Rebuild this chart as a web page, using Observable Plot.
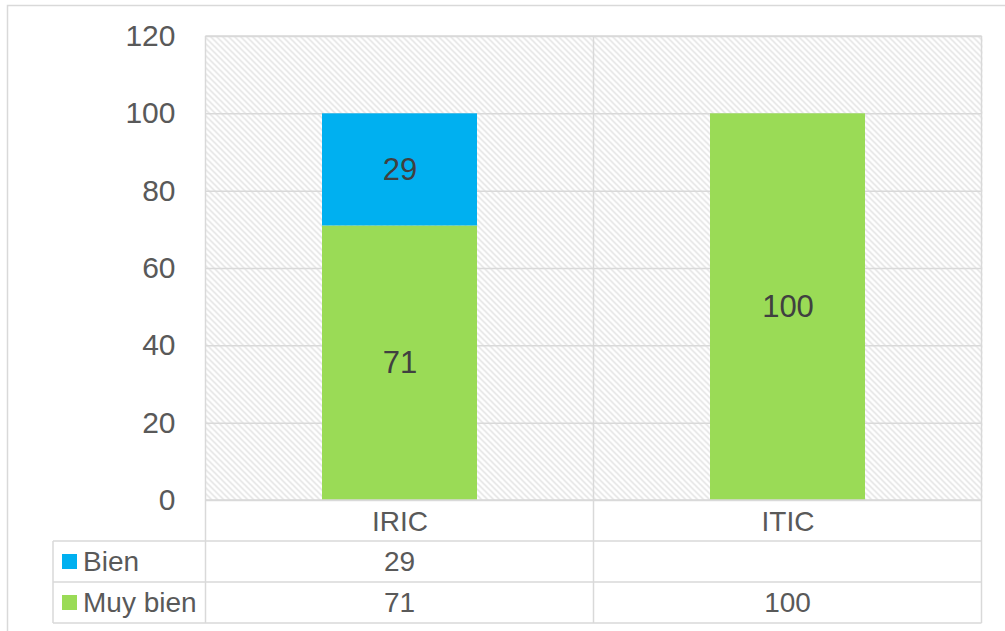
<!DOCTYPE html>
<html>
<head>
<meta charset="utf-8">
<script src="https://cdn.jsdelivr.net/npm/d3@7"></script>
<script src="https://cdn.jsdelivr.net/npm/@observablehq/plot@0.6"></script>
<style>
  html, body { margin: 0; padding: 0; background: #fff; }
  svg { display: block; }
</style>
</head>
<body>
<div id="chart"></div>
<script>
const categories = ["IRIC", "ITIC"];
const seriesNames = ["Muy bien", "Bien"];   // stacking order: bottom to top
const muyBien = [71, 100];
const bien = [29, null];
const yTicks = [0, 20, 40, 60, 80, 100, 120];
const seriesColors = { "Bien": "#00B0F0", "Muy bien": "#9ADB56" };
const tableRows = ["Bien", "Muy bien"];

const valuesBySeries = { "Muy bien": muyBien, "Bien": bien };
const data = [];
for (const s of seriesNames) {
  categories.forEach((c, i) => {
    const v = valuesBySeries[s][i];
    if (v != null) data.push({ cat: c, series: s, value: v });
  });
}

const W = 1005, H = 631;
const font = "'Liberation Sans', Arial, sans-serif";
const gridColor = "#d9d9d9";

const plot = Plot.plot({
  width: W,
  height: H,
  marginLeft: 205,
  marginRight: 23,
  marginTop: 36,
  marginBottom: 131,
  style: { fontFamily: font, background: "white", overflow: "visible" },
  x: { domain: categories, paddingInner: 0.6, paddingOuter: 0.3, label: null },
  y: { domain: [0, 120], ticks: yTicks, label: null },
  color: { domain: seriesNames, range: seriesNames.map(s => seriesColors[s]) },
  marks: [
    Plot.frame({ fill: "url(#hatch)", stroke: "none" }),
    Plot.gridY(yTicks, { stroke: gridColor, strokeOpacity: 1, strokeWidth: 1.5 }),
    Plot.barY(data, { x: "cat", y: "value", fill: "series", z: "series" }),
    Plot.text(data, Plot.stackY({ x: "cat", y: "value", z: "series", text: d => String(d.value), fontSize: 31, fill: "#404040" })),
    Plot.axisY(yTicks, { tickSize: 0, tickPadding: 30, fontSize: 30, fill: "#595959", label: null }),
    Plot.axisX({ tickSize: 0, tickPadding: 11, fontSize: 28, fill: "#595959", label: null })
  ]
});

document.getElementById("chart").appendChild(plot);

const svg = d3.select(plot);
// hatch pattern
const defs = svg.insert("defs", ":first-child");
const pat = defs.append("pattern")
  .attr("id", "hatch").attr("width", 6).attr("height", 6)
  .attr("patternUnits", "userSpaceOnUse");
pat.append("rect").attr("width", 6).attr("height", 6).attr("fill", "#ffffff");
pat.append("path")
  .attr("d", "M-1,-1L7,7M-1,5L1,7M5,-1L7,1")
  .attr("stroke", "#dedede").attr("stroke-width", 1.3).attr("fill", "none");

const xs = plot.scale("x");
const ys = plot.scale("y");
const step = xs.step, bw = xs.bandwidth;
const bounds = [];
categories.forEach((c, i) => {
  const center = xs.apply(c) + bw / 2;
  if (i === 0) bounds.push(center - step / 2);
  bounds.push(center + step / 2);
});
const y0 = ys.apply(0);
const yTop = ys.apply(120);
const rowH = 41;
const tableTop = y0 + rowH;                 // top of first data row
const tableBottom = tableTop + rowH * tableRows.length;
const legendLeft = 53;

const g = svg.append("g").attr("font-family", font).attr("text-anchor", "start");
const line = (x1, y1, x2, y2) => g.append("line")
  .attr("x1", x1).attr("y1", y1).attr("x2", x2).attr("y2", y2)
  .attr("stroke", gridColor).attr("stroke-width", 1.5);

// outer chart border
g.append("rect").attr("x", 7.5).attr("y", 5.5).attr("width", W + 20).attr("height", H + 20)
  .attr("fill", "none").attr("stroke", gridColor).attr("stroke-width", 1.5);

// plot frame and category boundaries (through the table)
bounds.forEach(bx => line(bx, yTop, bx, tableBottom));
line(bounds[0], yTop, bounds[bounds.length - 1], yTop);
line(bounds[0], y0, bounds[bounds.length - 1], y0);
// table rows
for (let r = 0; r <= tableRows.length; r++) {
  line(legendLeft, tableTop + r * rowH, bounds[bounds.length - 1], tableTop + r * rowH);
}
line(legendLeft, tableTop, legendLeft, tableBottom);

tableRows.forEach((s, r) => {
  const cy = tableTop + r * rowH + rowH / 2;
  g.append("rect").attr("x", 62).attr("y", cy - 7.5).attr("width", 15).attr("height", 15)
    .attr("fill", seriesColors[s]);
  g.append("text").attr("x", 83).attr("y", cy).attr("dy", "0.35em")
    .attr("text-anchor", "start")
    .attr("font-size", 28).attr("fill", "#595959").text(s);
  categories.forEach((c, i) => {
    const v = valuesBySeries[s][i];
    if (v == null) return;
    g.append("text").attr("x", xs.apply(c) + bw / 2).attr("y", cy).attr("dy", "0.35em")
      .attr("text-anchor", "middle").attr("font-size", 28).attr("fill", "#595959").text(String(v));
  });
});
</script>
</body>
</html>
